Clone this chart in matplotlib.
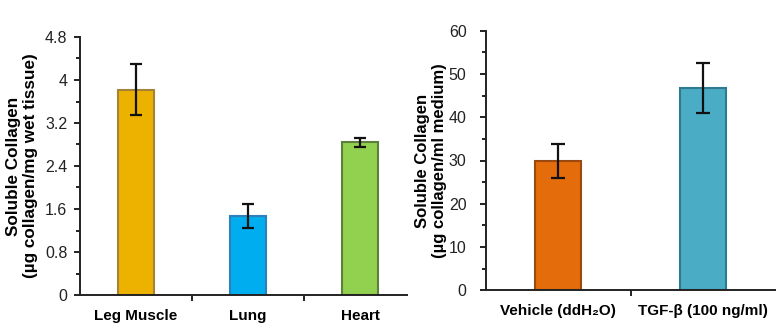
import matplotlib
matplotlib.use("Agg")
import matplotlib.pyplot as plt
from matplotlib.ticker import MultipleLocator

plt.rcParams['font.family'] = ['Liberation Sans', 'DejaVu Sans']

# Left panel data
tissues = ["Leg Muscle", "Lung", "Heart"]
tissue_vals = [3.82, 1.47, 2.84]
tissue_err = [0.47, 0.22, 0.08]
tissue_colors = ["#EDB200", "#00AEEF", "#92D050"]
tissue_edges = ["#A3823A", "#2F7FB8", "#5E7F3C"]
left_yticks = [0, 0.8, 1.6, 2.4, 3.2, 4, 4.8]
left_yticklabels = ["0", "0.8", "1.6", "2.4", "3.2", "4", "4.8"]

# Right panel data
treatments = ["Vehicle (ddH\u2082O)", "TGF-\u03b2 (100 ng/ml)"]
treat_vals = [29.9, 46.8]
treat_err = [3.9, 5.8]
treat_colors = ["#E46C0A", "#4BACC6"]
treat_edges = ["#9A4A10", "#2F7A8E"]
right_yticks = [0, 10, 20, 30, 40, 50, 60]

fig = plt.figure(figsize=(7.84, 3.29), dpi=100)
axL = fig.add_axes([80/784, 1-295/329, (407-80)/784, (295-37)/329])
axR = fig.add_axes([486/784, 1-290.3/329, (775-486)/784, (290.3-30.7)/329])

def style(ax, ypad):
    for s in ["top", "right"]:
        ax.spines[s].set_visible(False)
    for s in ["left", "bottom"]:
        ax.spines[s].set_color("#222222")
        ax.spines[s].set_linewidth(1.4)
    ax.tick_params(axis="y", which="major", direction="out", length=4, width=1.4,
                   colors="#222222", labelsize=11.5, pad=ypad)
    ax.tick_params(axis="y", which="minor", direction="out", length=3, width=1.4,
                   colors="#222222")
    ax.tick_params(axis="x", which="major", length=0, labelsize=11, pad=10)
    ax.tick_params(axis="x", which="minor", direction="out", length=4, width=1.4,
                   colors="#222222")
    for lab in ax.get_xticklabels():
        lab.set_fontweight("bold")

# Left
xL = list(range(len(tissues)))
axL.bar(xL, tissue_vals, width=0.32, color=tissue_colors, edgecolor=tissue_edges,
        linewidth=1.5, zorder=2)
axL.errorbar(xL, tissue_vals, yerr=tissue_err, fmt="none", ecolor="#111111",
             elinewidth=1.6, capsize=4, capthick=1.6, zorder=3)
axL.set_ylim(0, 4.8)
axL.set_xlim(-0.5, 2.42)
axL.set_yticks(left_yticks)
axL.set_yticklabels(left_yticklabels)
axL.yaxis.set_minor_locator(MultipleLocator(0.4))
axL.set_xticks(xL)
axL.set_xticklabels(tissues)
axL.set_xticks([0.5, 1.5], minor=True)
axL.set_ylabel("Soluble Collagen\n(\u00b5g collagen/mg wet tissue)", fontsize=12.3,
               fontweight="bold", labelpad=5, linespacing=1.15)
style(axL, 5)

# Right
xR = list(range(len(treatments)))
axR.bar(xR, treat_vals, width=0.32, color=treat_colors, edgecolor=treat_edges,
        linewidth=1.5, zorder=2)
axR.errorbar(xR, treat_vals, yerr=treat_err, fmt="none", ecolor="#111111",
             elinewidth=1.6, capsize=5, capthick=1.6, zorder=3)
axR.set_ylim(0, 60)
axR.set_xlim(-0.5, 1.5)
axR.set_yticks(right_yticks)
axR.yaxis.set_minor_locator(MultipleLocator(5))
axR.set_xticks(xR)
axR.set_xticklabels(treatments)
axR.set_xticks([0.5], minor=True)
axR.set_ylabel("Soluble Collagen\n(\u00b5g collagen/ml medium)", fontsize=12,
               fontweight="bold", labelpad=1, linespacing=1.15)
style(axR, 10)

fig.savefig("out.png", dpi=100)
